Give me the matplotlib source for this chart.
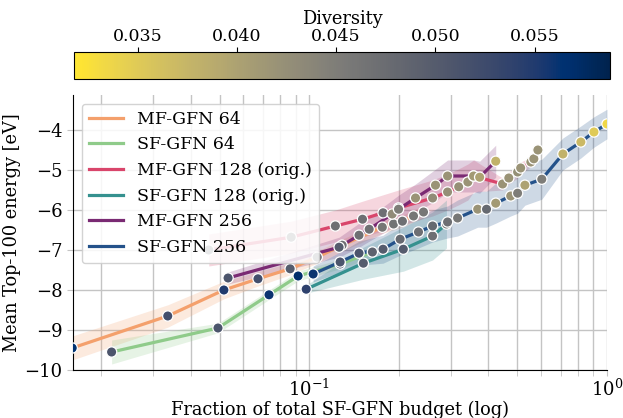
import numpy as np
import matplotlib.pyplot as plt
from matplotlib import cm, colors

plt.rcParams['font.family'] = 'DejaVu Serif'
plt.rcParams['mathtext.fontset'] = 'dejavuserif'
plt.rcParams['font.size'] = 12.8

# fraction of total budget, mean top-100 energy, CI half-width, diversity
mf64_x = [0.0160, 0.0335, 0.0517, 0.0673, 0.0863, 0.1064, 0.129, 0.176, 0.192, 0.2056, 0.224, 0.242]
mf64_y = [-9.45, -8.65, -8.00, -7.72, -7.47, -7.18, -6.88, -6.43, -6.35, -6.28, -6.15, -6.05]
mf64_e = [0.30, 0.28, 0.22, 0.18, 0.15, 0.15, 0.15, 0.15, 0.15, 0.15, 0.15, 0.15]
mf64_d = [0.0565, 0.052, 0.055, 0.052, 0.050, 0.048, 0.047, 0.046, 0.0465, 0.047, 0.046, 0.046]

sf64_x = [0.0217, 0.0494, 0.0733, 0.0918, 0.127, 0.163]
sf64_y = [-9.55, -8.95, -8.12, -7.65, -7.35, -7.05]
sf64_e = [0.30, 0.12, 0.12, 0.12, 0.12, 0.12]
sf64_d = [0.051, 0.051, 0.056, 0.057, 0.051, 0.049]

mf128_x = [0.046, 0.087, 0.1224, 0.151, 0.177, 0.1995, 0.2596, 0.2915, 0.3177, 0.341, 0.3565,
           0.446, 0.468, 0.501, 0.513, 0.555, 0.568, 0.586]
mf128_y = [-7.00, -6.68, -6.40, -6.23, -6.07, -5.95, -5.70, -5.55, -5.42, -5.30, -5.15,
           -5.35, -5.20, -5.05, -4.95, -4.80, -4.72, -4.50]
mf128_e = [0.40, 0.40, 0.40, 0.45, 0.45, 0.45, 0.45, 0.45, 0.45, 0.45, 0.40,
           0.15, 0.15, 0.15, 0.15, 0.12, 0.12, 0.12]
mf128_d = [0.048, 0.047, 0.047, 0.047, 0.047, 0.047, 0.043, 0.0425, 0.0425, 0.042, 0.041,
           0.042, 0.042, 0.0425, 0.042, 0.042, 0.042, 0.042]

sf128_x = [0.0977, 0.152, 0.207, 0.2596, 0.289]
sf128_y = [-7.98, -7.33, -6.98, -6.65, -6.35]
sf128_e = [0.10, 0.40, 0.55, 0.60, 0.60]
sf128_d = [0.054, 0.050, 0.050, 0.047, 0.046]

mf256_x = [0.0534, 0.126, 0.147, 0.159, 0.190, 0.1995, 0.2275, 0.2655, 0.2915, 0.3565, 0.3736, 0.423]
mf256_y = [-7.70, -6.93, -6.63, -6.48, -6.10, -5.98, -5.70, -5.38, -5.15, -5.15, -5.18, -4.78]
mf256_e = [0.15, 0.25, 0.30, 0.30, 0.35, 0.35, 0.35, 0.40, 0.40, 0.40, 0.40, 0.40]
mf256_d = [0.051, 0.050, 0.047, 0.047, 0.043, 0.045, 0.042, 0.042, 0.042, 0.041, 0.040, 0.038]

sf256_x = [0.1031, 0.127, 0.147, 0.177, 0.202, 0.2328, 0.2596, 0.2915, 0.315, 0.368, 0.394,
           0.423, 0.475, 0.501, 0.530, 0.604, 0.711, 0.817, 0.904, 1.0]
sf256_y = [-7.60, -7.30, -7.08, -6.98, -6.73, -6.55, -6.40, -6.30, -6.20, -5.98, -5.98,
           -5.83, -5.65, -5.58, -5.38, -5.23, -4.60, -4.30, -4.05, -3.85]
sf256_e = [0.20, 0.25, 0.30, 0.35, 0.40, 0.40, 0.40, 0.40, 0.45, 0.45, 0.45,
           0.50, 0.50, 0.50, 0.50, 0.50, 0.40, 0.40, 0.38, 0.37]
sf256_d = [0.056, 0.051, 0.051, 0.050, 0.048, 0.047, 0.048, 0.047, 0.046, 0.042, 0.048,
           0.041, 0.042, 0.045, 0.040, 0.045, 0.038, 0.037, 0.035, 0.0335]

series = [
    ('MF-GFN 64', '#f4a06c', mf64_x, mf64_y, mf64_e, mf64_d),
    ('SF-GFN 64', '#8fcb8a', sf64_x, sf64_y, sf64_e, sf64_d),
    ('MF-GFN 128 (orig.)', '#d9456b', mf128_x, mf128_y, mf128_e, mf128_d),
    ('SF-GFN 128 (orig.)', '#35918f', sf128_x, sf128_y, sf128_e, sf128_d),
    ('MF-GFN 256', '#7a2a73', mf256_x, mf256_y, mf256_e, mf256_d),
    ('SF-GFN 256', '#24528a', sf256_x, sf256_y, sf256_e, sf256_d),
]

vmin, vmax = 0.0318, 0.0588
norm = colors.Normalize(vmin=vmin, vmax=vmax)
cmap = plt.get_cmap('cividis_r')

fig = plt.figure(figsize=(6.23, 4.18), dpi=100)
ax = fig.add_axes([73/623, 1 - 370/418, (607 - 73)/623, (370 - 95)/418])
cax = fig.add_axes([74/623, 1 - 79/418, (610 - 74)/623, 27/418])

for name, col, x, y, e, d in series:
    x = np.array(x); y = np.array(y); e = np.array(e)
    ax.fill_between(x, y - e, y + e, color=col, alpha=0.22, lw=0, zorder=1)
    ax.plot(x, y, color=col, lw=2.3, label=name, zorder=2)

for name, col, x, y, e, d in series:
    ax.scatter(x, y, c=d, cmap=cmap, norm=norm, s=55, edgecolors='white',
               linewidths=0.9, zorder=3)

ax.set_xscale('log')
ax.set_xlim(0.0161, 1.0)
ax.set_ylim(-10, -3.125)
ax.set_yticks([-10, -9, -8, -7, -6, -5, -4])
ax.grid(True, which='both', color='#c4c4c4', lw=1.0, zorder=0)
ax.set_axisbelow(True)
for s in ['top', 'right']:
    ax.spines[s].set_visible(False)
for s in ['left', 'bottom']:
    ax.spines[s].set_color('black')
ax.tick_params(axis='both', which='both', length=4, color='#c4c4c4', labelsize=13)
ax.tick_params(axis='x', which='major', pad=2)
ax.set_xlabel('Fraction of total SF-GFN budget (log)', labelpad=1)
ax.set_ylabel('Mean Top-100 energy [eV]')
ax.yaxis.set_label_coords(-0.097, 0.5)
ax.legend(loc='upper left', fontsize=12.5, handlelength=2.0, framealpha=0.85,
          borderaxespad=0.5)

sm = cm.ScalarMappable(norm=norm, cmap=cmap)
cb = fig.colorbar(sm, cax=cax, orientation='horizontal')
cax.xaxis.set_ticks_position('top')
cax.xaxis.set_label_position('top')
cb.set_label('Diversity', labelpad=3)
cb.set_ticks([0.035, 0.040, 0.045, 0.050, 0.055])
cb.ax.set_xticklabels(['0.035', '0.040', '0.045', '0.050', '0.055'])
cb.ax.tick_params(labelsize=12.5, pad=1.5)

fig.savefig('out.png', dpi=100)
